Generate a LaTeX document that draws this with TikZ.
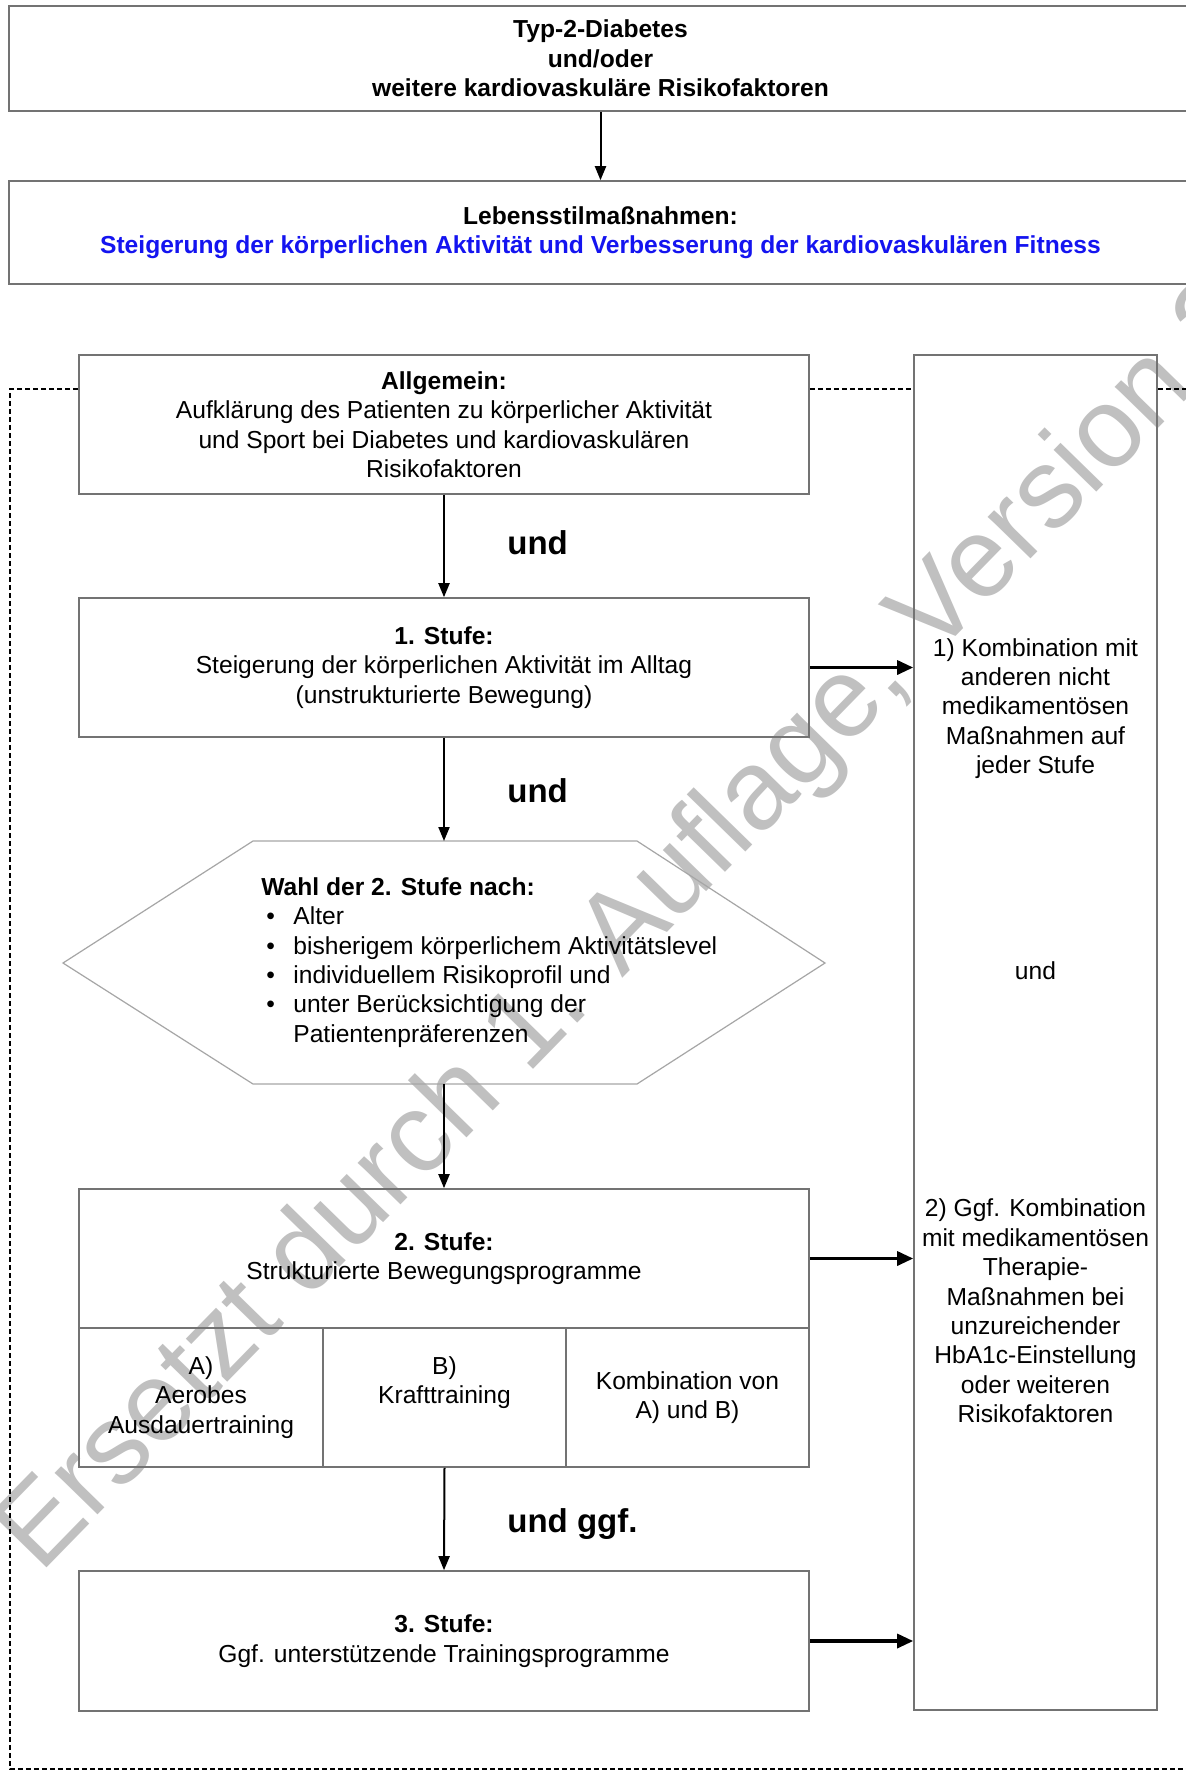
\documentclass[tikz,border=0pt]{standalone}
\usepackage{fontspec}
\setmainfont{Liberation Sans}
\usetikzlibrary{arrows.meta,calc}
\newcommand{\fsn}{\fontsize{12.3}{14.7}\selectfont}
\newcommand{\fsund}{\fontsize{16.5}{18}\selectfont\bfseries}
\newcommand{\bitem}{\hspace*{2.5pt}\makebox[13.5pt][l]{\textbullet}}
\definecolor{wmgray}{RGB}{192,192,192}
\definecolor{headblue}{RGB}{20,20,240}
\begin{document}
\begin{tikzpicture}[x=0.5pt,y=-0.5pt,
  box/.style={draw=black!55, line width=0.8pt, inner sep=0pt, align=center, font=\fsn},
  txt/.style={inner sep=0pt, align=center, font=\fsn},
  arr/.style={-{Triangle[length=7pt,width=5.5pt]}, line width=1pt},
  harr/.style={-{Triangle[length=8pt,width=7pt]}, line width=1.6pt},
  lbl/.style={inner sep=0pt, font=\fsund, anchor=west},
  frame/.style={dashed, dash pattern=on 2.5pt off 1.5pt, line width=0.7pt},
  wm/.style={inner sep=0pt, text=wmgray, font=\fontsize{56.5}{60}\selectfont, rotate=45.7, anchor=base west}
]
\useasboundingbox (0,0) rectangle (1186,1773);
\fill[white] (0,0) rectangle (1186,1773);

% watermark
\node[wm] (wmark) at (40,1575) {Ersetzt durch 1. Auflage, Version 2};

% top boxes
\node[box, minimum width=591.5pt, minimum height=52.5pt] (top) at (600.5,58.5)
  {\textbf{Typ-2-Diabetes}\\\textbf{und/oder}\\\textbf{weitere kardiovaskuläre Risikofaktoren}};
\node[box, minimum width=591.5pt, minimum height=51.5pt] (life) at (600.5,232.5)
  {\textbf{Lebensstilmaßnahmen:}\\\textcolor{headblue}{\textbf{Steigerung der körperlichen Aktivität und Verbesserung der kardiovaskulären Fitness}}};

% left column
\node[box, minimum width=365pt, minimum height=69.5pt] (allg) at (444,424.5)
  {\textbf{Allgemein:}\\Aufklärung des Patienten zu körperlicher Aktivität\\und Sport bei Diabetes und kardiovaskulären\\Risikofaktoren};
\node[box, minimum width=365pt, minimum height=69.5pt] (s1) at (444,667.5)
  {\textbf{1. Stufe:}\\Steigerung der körperlichen Aktivität im Alltag\\(unstrukturierte Bewegung)};

% hexagon
\draw[draw=black!35, line width=0.6pt] (253,841) -- (637,841) -- (825,963) -- (637,1084) -- (253,1084) -- (63,963) -- cycle;
\coordinate (hexN) at (444,841);
\coordinate (hexS) at (444,1084);
\node[inner sep=0pt, align=left, font=\fsn, anchor=west] (wahl) at (261,962.5)
  {\textbf{Wahl der 2. Stufe nach:}\\
   \bitem Alter\\
   \bitem bisherigem körperlichem Aktivitätslevel\\
   \bitem individuellem Risikoprofil und\\
   \bitem unter Berücksichtigung der\\
   \hspace*{16pt}Patientenpräferenzen};

\node[box, minimum width=365pt, minimum height=69.5pt] (s2) at (444,1258.5)
  {\textbf{2. Stufe:}\\Strukturierte Bewegungsprogramme};
\node[box, minimum width=122pt, minimum height=69.5pt] (sA) at (201,1397.5) {};
\node[box, minimum width=121.5pt, minimum height=69.5pt] (sB) at (444.5,1397.5) {};
\node[box, minimum width=121.5pt, minimum height=69.5pt] (sC) at (687.5,1397.5) {};
\node[txt] (tA) at (sA.center) {A)\\Aerobes\\Ausdauertraining};
\node[txt] (tB) at (444.5,1382.5) {B)\\Krafttraining};
\node[txt] (tC) at (sC.center) {Kombination von\\A) und B)};

\node[box, minimum width=365pt, minimum height=70pt] (s3) at (444,1641)
  {\textbf{3. Stufe:}\\Ggf. unterstützende Trainingsprogramme};

% right column
\node[box, minimum width=121.5pt, minimum height=677.5pt] (right) at (1035.5,1032.5) {};
\node[txt] (r1) at (1035.5,708.5) {1) Kombination mit\\anderen nicht\\medikamentösen\\Maßnahmen auf\\jeder Stufe};
\node[txt] (rund) at (1035.5,971) {und};
\node[txt] (r2) at (1035.5,1311) {2) Ggf. Kombination\\mit medikamentösen\\Therapie-\\Maßnahmen bei\\unzureichender\\HbA1c-Einstellung\\oder weiteren\\Risikofaktoren};

% dashed frame
\draw[frame] (allg.west |- 0,389) -- (10,389) -- (10,1769) -- (1190,1769);
\draw[frame] (allg.east |- 0,389) -- (right.west |- 0,389);
\draw[frame] (right.east |- 0,389) -- (1190,389);

% arrows
\draw[arr] (top.south) -- (life.north);
\draw[arr] (allg.south) -- (s1.north);
\draw[arr] (s1.south) -- (hexN);
\draw[arr] (hexS) -- (s2.north);
\draw[arr] (sB.south) -- (s3.north);
\draw[harr] (s1.east) -- (s1.east -| right.west);
\draw[harr] (s2.east) -- (s2.east -| right.west);
\draw[harr] (s3.east) -- (s3.east -| right.west);

% labels
\node[lbl] (und1) at (507,543) {und};
\node[lbl] (und2) at (507,791) {und};
\node[lbl] (und3) at (507,1524) {und ggf.};
\end{tikzpicture}
\end{document}
